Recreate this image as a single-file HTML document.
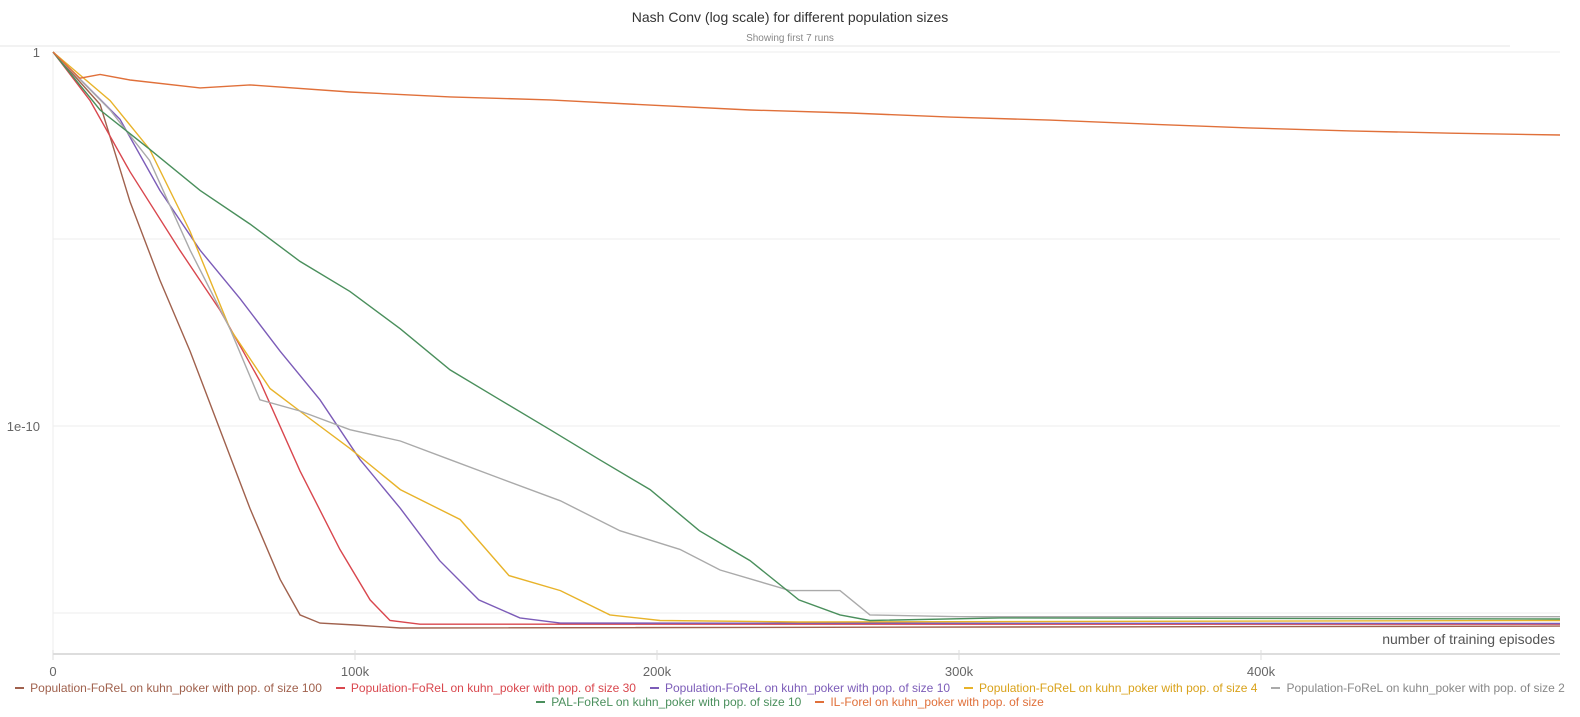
<!DOCTYPE html>
<html><head><meta charset="utf-8"><style>
body{margin:0;width:1580px;height:717px;background:#fff;font-family:"Liberation Sans",sans-serif;overflow:hidden}
svg{position:absolute;left:0;top:0}
.leg{position:absolute;left:0;width:1580px;display:flex;justify-content:center;font-size:12px;gap:14px;white-space:nowrap}
.leg span{display:flex;align-items:center}
.leg i{display:inline-block;width:9px;height:2px;margin-right:6px}
</style></head><body>
<svg width="1580" height="717">
<text x="790" y="22" text-anchor="middle" font-size="14" fill="#333">Nash Conv (log scale) for different population sizes</text>
<text x="790" y="41" text-anchor="middle" font-size="10" fill="#888">Showing first 7 runs</text>
<line x1="0" y1="46" x2="1510" y2="46" stroke="#e6e6e6"/>
<g id="grid"></g><g id="lines"></g>
<text x="1555" y="644" text-anchor="end" font-size="14" fill="#555">number of training episodes</text>
</svg>
<div class="leg" style="top:681px">
<span style="color:#a0614d"><i style="background:#a0614d"></i>Population-FoReL on kuhn_poker with pop. of size 100</span>
<span style="color:#d9474e"><i style="background:#d9474e"></i>Population-FoReL on kuhn_poker with pop. of size 30</span>
<span style="color:#7c5cb8"><i style="background:#7c5cb8"></i>Population-FoReL on kuhn_poker with pop. of size 10</span>
<span style="color:#d9a21b"><i style="background:#e8b32a"></i>Population-FoReL on kuhn_poker with pop. of size 4</span>
<span style="color:#888"><i style="background:#aaa"></i>Population-FoReL on kuhn_poker with pop. of size 2</span>
</div>
<div class="leg" style="top:695px">
<span style="color:#4a8f5c"><i style="background:#4a8f5c"></i>PAL-FoReL on kuhn_poker with pop. of size 10</span>
<span style="color:#e0703a"><i style="background:#e0703a"></i>IL-Forel on kuhn_poker with pop. of size</span>
</div>
<script>
const xTicks=[0,100,200,300,400];
const xTickLabels=["0","100k","200k","300k","400k"];
const yTicks=[0,-5,-10,-15];
const yTickLabels=["1","","1e-10",""];
const seriesNames=["size100","size30","size10","size4","size2","pal10","il"];
const seriesColors=["#a0614d","#d9474e","#7c5cb8","#e8b32a","#aaaaaa","#4a8f5c","#e0703a"];
const s100X=[0,15.6,25.5,35.4,45.4,55.3,65.2,75.2,81.8,88.4,100,115,499];
const s100Y=[0,-1.4,-4,-6.1,-8,-10.1,-12.2,-14.1,-15.05,-15.27,-15.32,-15.4,-15.35];
const s30X=[0,12.3,25.5,42,55.3,68.5,81.8,95,105,111.6,121.5,499];
const s30Y=[0,-1.3,-3.2,-5.3,-6.9,-8.8,-11.2,-13.3,-14.65,-15.2,-15.3,-15.3];
const s10X=[0,22.2,35.4,48.7,62,75.2,88.4,101.7,115,128,141,154.6,168,499];
const s10Y=[0,-1.8,-3.7,-5.3,-6.6,-8,-9.3,-10.9,-12.2,-13.6,-14.65,-15.13,-15.27,-15.28];
const s4X=[0,18.9,32,45.4,58.6,71.9,85,98.3,115,134.8,151,168,184.4,201,247,499];
const s4Y=[0,-1.3,-2.6,-4.8,-7.4,-9,-9.8,-10.6,-11.7,-12.5,-14,-14.4,-15.05,-15.2,-15.24,-15.2];
const s2X=[0,18.9,32,45.4,58.6,68.5,81.8,98.3,115,131.5,148,168,187.7,207.6,220.9,244,260.6,270.5,300,499];
const s2Y=[0,-1.55,-2.9,-5.3,-7.4,-9.3,-9.6,-10.1,-10.4,-10.9,-11.4,-12,-12.8,-13.3,-13.85,-14.4,-14.4,-15.05,-15.1,-15.1];
const palX=[0,15.6,32,48.7,65.2,81.8,98.3,115,131.5,148,164.6,181,197.7,214,230.8,247,260.6,270.5,313.6,499];
const palY=[0,-1.55,-2.6,-3.7,-4.6,-5.6,-6.4,-7.4,-8.5,-9.3,-10.1,-10.9,-11.7,-12.8,-13.6,-14.65,-15.05,-15.2,-15.13,-15.16];
const ilX=[0,8.9,15.6,25.5,48.7,65.2,98.3,131.5,164.6,197.7,230.8,264,297,330,363,396,429.5,463,499];
const ilY=[0,-0.7,-0.6,-0.75,-0.96,-0.88,-1.07,-1.2,-1.28,-1.42,-1.55,-1.63,-1.74,-1.82,-1.93,-2.03,-2.11,-2.17,-2.22];
const allX=[s100X,s30X,s10X,s4X,s2X,palX,ilX];
const allY=[s100Y,s30Y,s10Y,s4Y,s2Y,palY,ilY];
const NS="http://www.w3.org/2000/svg";
function sx(v){return 53+v*3.02;}
function sy(v){return 52-v*37.4;}
const grid=document.getElementById('grid'),lines=document.getElementById('lines');
yTicks.forEach((t,i)=>{
 const l=document.createElementNS(NS,'line');
 l.setAttribute('x1',53);l.setAttribute('x2',1560);l.setAttribute('y1',sy(t));l.setAttribute('y2',sy(t));
 l.setAttribute('stroke','#eee');
 
 
 grid.appendChild(l);
 if(yTickLabels[i]){const tx=document.createElementNS(NS,'text');
 tx.setAttribute('x',i==0?40:40);tx.setAttribute('y',sy(t)+5);tx.setAttribute('text-anchor','end');tx.setAttribute('font-size','13');tx.setAttribute('fill','#666');
 tx.textContent=yTickLabels[i];
 
 
 grid.appendChild(tx);}
});
const ax=document.createElementNS(NS,'line');
ax.setAttribute('x1',53);ax.setAttribute('x2',1560);ax.setAttribute('y1',654);ax.setAttribute('y2',654);ax.setAttribute('stroke','#ddd');ax.setAttribute('stroke-width','2');


grid.appendChild(ax);
const ay=document.createElementNS(NS,'line');
ay.setAttribute('x1',53);ay.setAttribute('x2',53);ay.setAttribute('y1',52);ay.setAttribute('y2',654);ay.setAttribute('stroke','#eee');


grid.appendChild(ay);
xTicks.forEach((t,i)=>{
 const tk=document.createElementNS(NS,'line');
 tk.setAttribute('x1',sx(t));tk.setAttribute('x2',sx(t));tk.setAttribute('y1',650);tk.setAttribute('y2',660);tk.setAttribute('stroke','#ddd');
 
 
 grid.appendChild(tk);
 const tx=document.createElementNS(NS,'text');
 tx.setAttribute('x',sx(t));tx.setAttribute('y',676);tx.setAttribute('text-anchor','middle');tx.setAttribute('font-size','13');tx.setAttribute('fill','#666');
 tx.textContent=xTickLabels[i];
 
 
 grid.appendChild(tx);
});
allX.forEach((xs,k)=>{
 const ys=allY[k];
 const p=document.createElementNS(NS,'polyline');
 p.setAttribute('points',xs.map((x,i)=>sx(x).toFixed(1)+','+sy(ys[i]).toFixed(1)).join(' '));
 p.setAttribute('fill','none');p.setAttribute('stroke',seriesColors[k]);p.setAttribute('stroke-width','1.4');
 
 
 lines.appendChild(p);
});
</script>
</body></html>
